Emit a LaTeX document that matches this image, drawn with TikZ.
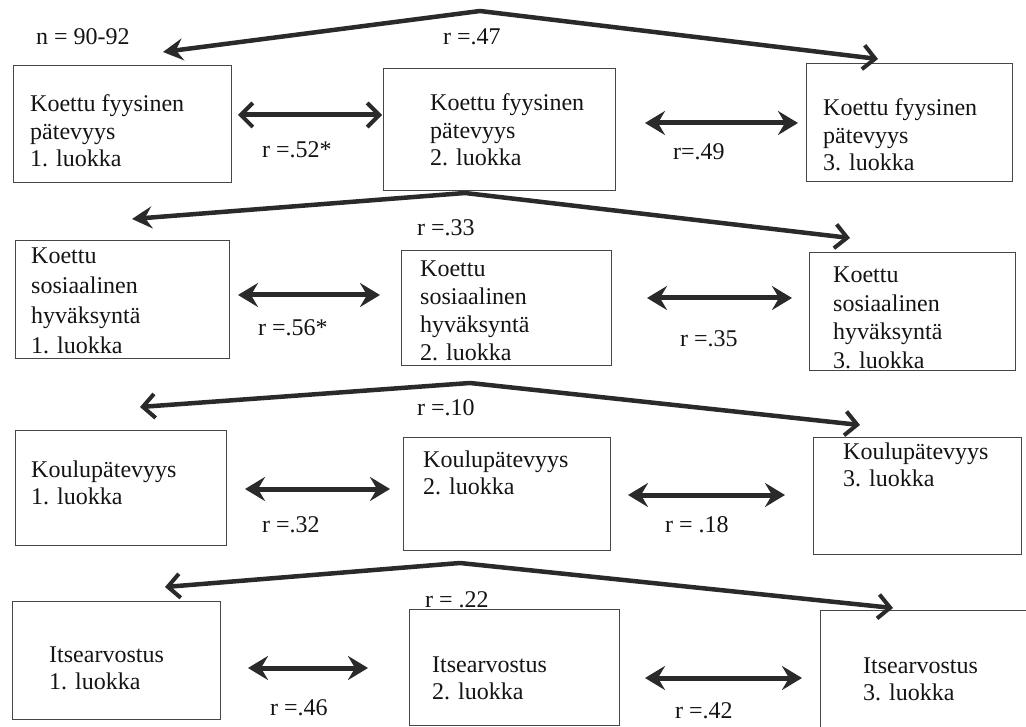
\documentclass[tikz,border=0pt]{standalone}
\usepackage{fontspec}
\setmainfont{Liberation Serif}
\usetikzlibrary{arrows.meta}

\definecolor{ink}{RGB}{20,20,20}
\definecolor{stroke}{RGB}{42,42,42}
\definecolor{frame}{RGB}{70,70,70}

\tikzset{
  box/.style={draw=frame, line width=1.4pt, inner sep=0pt, anchor=north west},
  words/.style={inner sep=0pt, anchor=base west, text=ink,
    font=\fontsize{24}{28}\selectfont},
  solidhead/.tip={Stealth[length=20pt,width=22pt,inset=7pt]},
  barbhead/.tip={Straight Barb[length=12pt,width=24pt,line width=4pt]},
  bigarrow/.style={draw=stroke, line width=4.5pt, line join=round},
  dblarrow/.style={draw=stroke, line width=5pt,
    {Stealth[length=20pt,width=24pt,inset=7pt]}-{Stealth[length=20pt,width=24pt,inset=7pt]}},
  dblbarb/.style={draw=stroke, line width=5pt, barbhead-barbhead}
}

% frame: name, x, y (top left), width, height
\newcommand{\frameat}[5]{\node[box, minimum width=#4pt, minimum height=#5pt] (#1) at (#2,#3) {};}
% text block: name, x, baseline of first line, line spacing, lines
\newcommand{\wordsat}[5]{\node[words] (#1) at (#2,#3) {\baselineskip=#4pt\vtop{#5}};}

\begin{document}
\begin{tikzpicture}[x=1pt,y=-1pt]
\useasboundingbox[fill=white] (0,0) rectangle (1026,727);

% ---- row 1: perceived physical competence
\frameat{b11}{13}{65}{218}{117}
\frameat{b12}{383}{68}{232}{122}
\frameat{b13}{806}{63}{206}{118}
\wordsat{t11}{30}{112}{27.5}{\hbox{Koettu fyysinen}\hbox{pätevyys}\hbox{1. luokka}}
\wordsat{t12}{430}{111}{27.5}{\hbox{Koettu fyysinen}\hbox{pätevyys}\hbox{2. luokka}}
\wordsat{t13}{823}{116}{27.5}{\hbox{Koettu fyysinen}\hbox{pätevyys}\hbox{3. luokka}}
\node[words] (n) at (36,45) {n = 90-92};
\coordinate (L1) at (163,52);
\coordinate (P1) at (480,11);
\coordinate (R1) at (878,59);
\draw[bigarrow, solidhead-barbhead] (L1) -- (P1) -- (R1);
\node[words] (r13) at (443,45) {r =.47};
\coordinate (a1) at (238,115); \coordinate (a2) at (382,115);
\draw[dblbarb] (a1) -- (a2);
\node[words] (r12) at (262,158) {r =.52*};
\coordinate (a3) at (645,123); \coordinate (a4) at (798,123);
\draw[dblarrow] (a3) -- (a4);
\node[words] (r23) at (673,160) {r=.49};

% ---- row 2: perceived social acceptance
\frameat{b21}{15}{240}{214}{118}
\frameat{b22}{401}{250}{210}{115}
\frameat{b23}{809}{252}{206}{118}
\wordsat{t21}{31}{264}{30}{\hbox{Koettu}\hbox{sosiaalinen}\hbox{hyväksyntä}\hbox{1. luokka}}
\wordsat{t22}{420}{277}{28}{\hbox{Koettu}\hbox{sosiaalinen}\hbox{hyväksyntä}\hbox{2. luokka}}
\wordsat{t23}{833}{283}{28.5}{\hbox{Koettu}\hbox{sosiaalinen}\hbox{hyväksyntä}\hbox{3. luokka}}
\coordinate (L2) at (132,219);
\coordinate (P2) at (465,193);
\coordinate (R2) at (850,238);
\draw[bigarrow, solidhead-barbhead] (L2) -- (P2) -- (R2);
\node[words] (s13) at (417,236) {r =.33};
\coordinate (c1) at (238,295); \coordinate (c2) at (380,295);
\draw[dblarrow] (c1) -- (c2);
\node[words] (s12) at (258,336) {r =.56*};
\coordinate (c3) at (647,298); \coordinate (c4) at (792,298);
\draw[dblarrow] (c3) -- (c4);
\node[words] (s23) at (680,347) {r =.35};

% ---- row 3: school competence
\frameat{b31}{15}{430}{211}{115}
\frameat{b32}{403}{437}{207}{113}
\frameat{b33}{813}{437}{208}{117}
\wordsat{t31}{31}{477}{27.5}{\hbox{Koulupätevyys}\hbox{1. luokka}}
\wordsat{t32}{423}{467}{27.5}{\hbox{Koulupätevyys}\hbox{2. luokka}}
\wordsat{t33}{843}{459}{27.5}{\hbox{Koulupätevyys}\hbox{3. luokka}}
\coordinate (L3) at (140,407);
\coordinate (P3) at (470,383);
\coordinate (R3) at (860,425);
\draw[bigarrow, barbhead-barbhead] (L3) -- (P3) -- (R3);
\node[words] (k13) at (417,416) {r =.10};
\coordinate (e1) at (245,489); \coordinate (e2) at (390,489);
\draw[dblarrow] (e1) -- (e2);
\node[words] (k12) at (262,532) {r =.32};
\coordinate (e3) at (628,495); \coordinate (e4) at (785,495);
\draw[dblarrow] (e3) -- (e4);
\node[words] (k23) at (665,532) {r = .18};

% ---- row 4: self-esteem
\frameat{b41}{12}{601}{208}{118}
\frameat{b42}{409}{609}{210}{116}
\frameat{b43}{820}{610}{210}{122}
\wordsat{t41}{49}{662}{27.5}{\hbox{Itsearvostus}\hbox{1. luokka}}
\wordsat{t42}{432}{672}{27.5}{\hbox{Itsearvostus}\hbox{2. luokka}}
\wordsat{t43}{863}{673}{27.5}{\hbox{Itsearvostus}\hbox{3. luokka}}
\coordinate (L4) at (165,587);
\coordinate (P4) at (460,563);
\coordinate (R4) at (893,608);
\draw[bigarrow, barbhead-barbhead] (L4) -- (P4) -- (R4);
\node[words] (i13) at (425,607) {r = .22};
\coordinate (g1) at (248,668); \coordinate (g2) at (368,668);
\draw[dblarrow] (g1) -- (g2);
\node[words] (i12) at (270,715) {r =.46};
\coordinate (g3) at (645,678); \coordinate (g4) at (802,678);
\draw[dblarrow] (g3) -- (g4);
\node[words] (i23) at (675,718) {r =.42};
\end{tikzpicture}
\end{document}
